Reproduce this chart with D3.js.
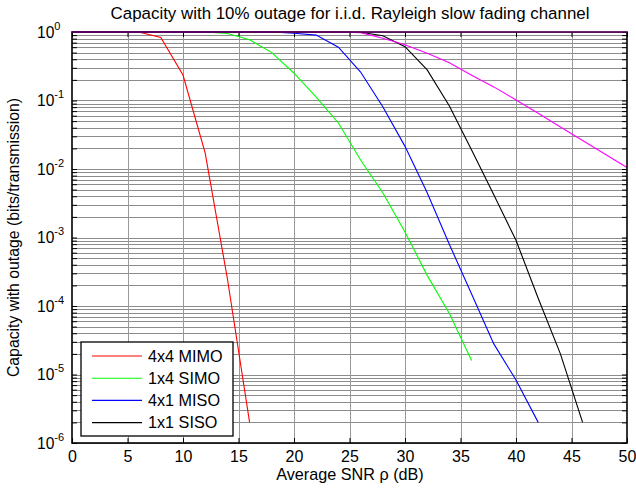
<!DOCTYPE html>
<html><head><meta charset="utf-8">
<script src="https://cdn.jsdelivr.net/npm/d3@7/dist/d3.min.js"></script>
<style>body{margin:0;background:#fff}svg{display:block}</style>
</head><body><svg id="c" width="636" height="490"></svg>
<script>
// ---- data ----
const snrMIMO = [0, 2, 4, 6, 8, 10, 12, 14, 16];
const capMIMO = [1, 1, 1, 1, 0.83, 0.235, 0.017, 2.5e-4, 2e-6];

const snrSIMO = [0, 2, 4, 6, 8, 10, 12, 14, 16, 18, 20, 22, 24, 26, 28, 30, 32, 34, 36];
const capSIMO = [1, 1, 1, 1, 1, 1, 1, 0.95, 0.77, 0.5, 0.25, 0.112, 0.047, 0.0135, 4.5e-3, 1.2e-3, 2.8e-4, 7.8e-5, 1.6e-5];

const snrMISO = [0, 2, 4, 6, 8, 10, 12, 14, 16, 18, 20, 22, 24, 26, 28, 30, 32, 34, 36, 38, 40, 42];
const capMISO = [1, 1, 1, 1, 1, 1, 1, 1, 1, 1, 0.96, 0.9, 0.6, 0.26, 0.081, 0.0214, 4.5e-3, 7.9e-4, 1.5e-4, 2.8e-5, 8.3e-6, 2e-6];

const snrSISO = [0, 2, 4, 6, 8, 10, 12, 14, 16, 18, 20, 22, 24, 26, 28, 30, 32, 34, 36, 38, 40, 42, 44, 46];
const capSISO = [1, 1, 1, 1, 1, 1, 1, 1, 1, 1, 1, 1, 1, 0.99, 0.88, 0.61, 0.28, 0.083, 0.019, 4.2e-3, 9.1e-4, 1.3e-4, 2.0e-5, 2e-6];

const snrExtra = [0, 2, 4, 6, 8, 10, 12, 14, 16, 18, 20, 22, 24, 26, 28, 30, 32, 34, 36, 38, 40, 42, 44, 46, 48, 50];
const capExtra = [1, 1, 1, 1, 1, 1, 1, 1, 1, 1, 1, 1, 1, 0.98, 0.81, 0.65, 0.49, 0.355, 0.234, 0.158, 0.102, 0.065, 0.041, 0.026, 0.0166, 0.0105];

const seriesNames = ["4x4 MIMO", "1x4 SIMO", "4x1 MISO", "1x1 SISO"];
const xTicks = [0, 5, 10, 15, 20, 25, 30, 35, 40, 45, 50];
const yTickExponents = [0, -1, -2, -3, -4, -5, -6];
const titleText = "Capacity with 10% outage for i.i.d. Rayleigh slow fading channel";
const xLabelText = "Average SNR \u03C1 (dB)";
const yLabelText = "Capacity with outage (bits/transmission)";

// ---- drawing ----
const svg = d3.select("#c");
const FONT = "'Liberation Sans', Arial, Helvetica, sans-serif";
const L = 72, R = 627, T = 32, B = 443;
const x = d3.scaleLinear().domain([0, 50]).range([L, R]);
const y = d3.scaleLog().domain([1e-6, 1]).range([B, T]);

const series = [
  {name: seriesNames[0], color: "#ff0000", xs: snrMIMO, ys: capMIMO},
  {name: seriesNames[1], color: "#00ff00", xs: snrSIMO, ys: capSIMO},
  {name: seriesNames[2], color: "#0000ff", xs: snrMISO, ys: capMISO},
  {name: seriesNames[3], color: "#000000", xs: snrSISO, ys: capSISO},
  {name: null, color: "#ff00ff", xs: snrExtra, ys: capExtra}
];

// minor + major y values
const yGridVals = [];
yTickExponents.forEach(e => { for (let m = 1; m <= 9; m++) { const v = m * Math.pow(10, e); if (v <= 1.0000001 && v >= 1e-6) yGridVals.push(v); } });

// grid
const grid = svg.append("g");
grid.selectAll("line.h").data(yGridVals).enter().append("line")
  .attr("x1", L).attr("x2", R)
  .attr("y1", d => Math.round(y(d)) + 0.5).attr("y2", d => Math.round(y(d)) + 0.5)
  .attr("stroke", "#8c8c8c").attr("stroke-width", 1);
grid.selectAll("line.v").data(xTicks.filter(d => d > 0 && d < 50)).enter().append("line")
  .attr("y1", T).attr("y2", B)
  .attr("x1", d => Math.round(x(d)) + 0.5).attr("x2", d => Math.round(x(d)) + 0.5)
  .attr("stroke", "#999").attr("stroke-width", 1);

// axes
const ax = svg.append("g").attr("font-family", FONT);
const xb = ax.append("g").attr("transform", `translate(0,${B})`)
  .call(d3.axisBottom(x).tickValues(xTicks).tickSize(-5).tickPadding(8).tickSizeOuter(0));
xb.selectAll("text").attr("font-size", "16px").attr("fill", "#000").attr("font-family", FONT);
const xt = ax.append("g").attr("transform", `translate(0,${T})`)
  .call(d3.axisTop(x).tickValues(xTicks).tickSize(-5).tickFormat("").tickSizeOuter(0));
const yl = ax.append("g").attr("transform", `translate(${L},0)`)
  .call(d3.axisLeft(y).tickValues(yGridVals).tickSize(-5).tickFormat("").tickSizeOuter(0));
const yr = ax.append("g").attr("transform", `translate(${R},0)`)
  .call(d3.axisRight(y).tickValues(yGridVals).tickSize(-5).tickFormat("").tickSizeOuter(0));
[xb, xt, yl, yr].forEach(g => { g.select(".domain").remove(); g.selectAll("line").attr("stroke", "#000"); });

// y tick labels 10^e
const ylab = svg.append("g").attr("font-family", FONT).attr("fill", "#000");
yTickExponents.forEach(e => {
  const t = ylab.append("text").attr("x", 37).attr("y", y(Math.pow(10, e)) + 5.5)
    .attr("font-size", "15.6px").text("10");
  t.append("tspan").attr("dy", -8).attr("font-size", "11px").text(String(e));
});

// data lines
const line = d3.line().x(d => x(d[0])).y(d => y(d[1]));
series.forEach(s => {
  svg.append("path").datum(s.xs.map((v, i) => [v, s.ys[i]]))
    .attr("d", line).attr("fill", "none").attr("stroke", s.color).attr("stroke-width", 1.1);
});

// box
svg.append("rect").attr("x", L).attr("y", T).attr("width", R - L).attr("height", B - T)
  .attr("fill", "none").attr("stroke", "#000").attr("stroke-width", 1.6);
svg.append("line").attr("x1", L).attr("x2", R).attr("y1", T).attr("y2", T)
  .attr("stroke", "#ff00ff").attr("stroke-width", 1).attr("opacity", 0.55);

// legend
const lg = svg.append("g").attr("font-family", FONT);
lg.append("rect").attr("x", 81).attr("y", 342).attr("width", 152).attr("height", 94)
  .attr("fill", "#fff").attr("stroke", "#000").attr("stroke-width", 1.3);
series.slice(0, 4).forEach((s, i) => {
  const yy = 356 + i * 22.2;
  lg.append("line").attr("x1", 92).attr("x2", 142).attr("y1", yy).attr("y2", yy)
    .attr("stroke", s.color).attr("stroke-width", 1.1);
  lg.append("text").attr("x", 148).attr("y", yy + 5.5).attr("font-size", "16.2px").text(s.name);
});

// titles
svg.append("text").attr("x", 350).attr("y", 19).attr("text-anchor", "middle")
  .attr("font-family", FONT).attr("font-size", "16.9px").text(titleText);
svg.append("text").attr("x", 350).attr("y", 480).attr("text-anchor", "middle")
  .attr("font-family", FONT).attr("font-size", "16.2px").text(xLabelText);
svg.append("text").attr("transform", "translate(19,237.5) rotate(-90)").attr("text-anchor", "middle")
  .attr("font-family", FONT).attr("font-size", "15.8px").text(yLabelText);
</script>
</body></html>
